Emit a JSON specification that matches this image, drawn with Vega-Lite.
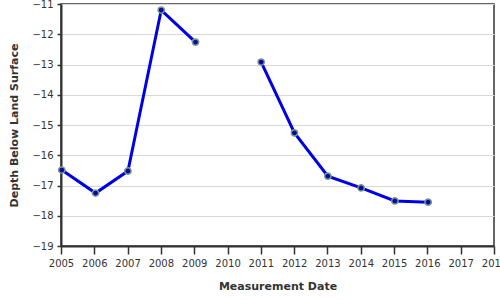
{
  "$schema": "https://vega.github.io/schema/vega-lite/v6.json",
  "autosize": {"type": "none"},
  "width": 433,
  "height": 242,
  "padding": {"left": 61, "top": 4, "right": 6, "bottom": 54},
  "background": "white",
  "config": {
    "font": "DejaVu Sans",
    "view": {"stroke": "#333", "strokeWidth": 1.5},
    "axis": {
      "labelFont": "DejaVu Sans",
      "titleFont": "DejaVu Sans",
      "labelFontSize": 10,
      "titleFontSize": 11,
      "titleFontWeight": "bold",
      "labelColor": "#333",
      "titleColor": "#333",
      "domainColor": "#333",
      "domainWidth": 2,
      "tickColor": "#333",
      "tickWidth": 1.5,
      "tickSize": 5,
      "gridColor": "#d9d9d9"
    }
  },
  "data": {
    "values": [
      {"date": "2005-01-10", "depth": -16.49, "seg": "a"},
      {"date": "2006-01-15", "depth": -17.25, "seg": "a"},
      {"date": "2007-01-05", "depth": -16.52, "seg": "a"},
      {"date": "2008-01-05", "depth": -11.2, "seg": "a"},
      {"date": "2009-01-15", "depth": -12.26, "seg": "a"},
      {"date": "2011-01-05", "depth": -12.92, "seg": "b"},
      {"date": "2012-01-05", "depth": -15.26, "seg": "b"},
      {"date": "2013-01-05", "depth": -16.69, "seg": "b"},
      {"date": "2014-01-05", "depth": -17.08, "seg": "b"},
      {"date": "2015-01-10", "depth": -17.51, "seg": "b"},
      {"date": "2016-01-10", "depth": -17.55, "seg": "b"}
    ]
  },
  "encoding": {
    "x": {
      "field": "date",
      "type": "temporal",
      "title": "Measurement Date",
      "scale": {"domain": [{"year": 2005, "month": 1, "date": 1}, {"year": 2018, "month": 1, "date": 1}]},
      "axis": {
        "format": "%Y",
        "tickCount": {"interval": "year", "step": 1},
        "grid": false,
        "tickSize": 8,
        "labelPadding": 4,
        "titlePadding": 12,
        "labelOverlap": false,
        "labelFlush": false
      }
    },
    "y": {
      "field": "depth",
      "type": "quantitative",
      "title": "Depth Below Land Surface",
      "scale": {"domain": [-19, -11], "nice": false, "zero": false},
      "axis": {
        "values": [-19, -18, -17, -16, -15, -14, -13, -12, -11],
        "grid": true,
        "tickSize": 4,
        "labelPadding": 4,
        "titlePadding": 12
      }
    }
  },
  "layer": [
    {
      "mark": {"type": "line", "color": "#0000e6", "strokeWidth": 3},
      "encoding": {"detail": {"field": "seg", "type": "nominal"}}
    },
    {
      "mark": {"type": "point", "filled": true, "fill": "#0a0aa0", "stroke": "#7a9a8e", "strokeWidth": 1.5, "size": 40, "opacity": 1}
    }
  ]
}
